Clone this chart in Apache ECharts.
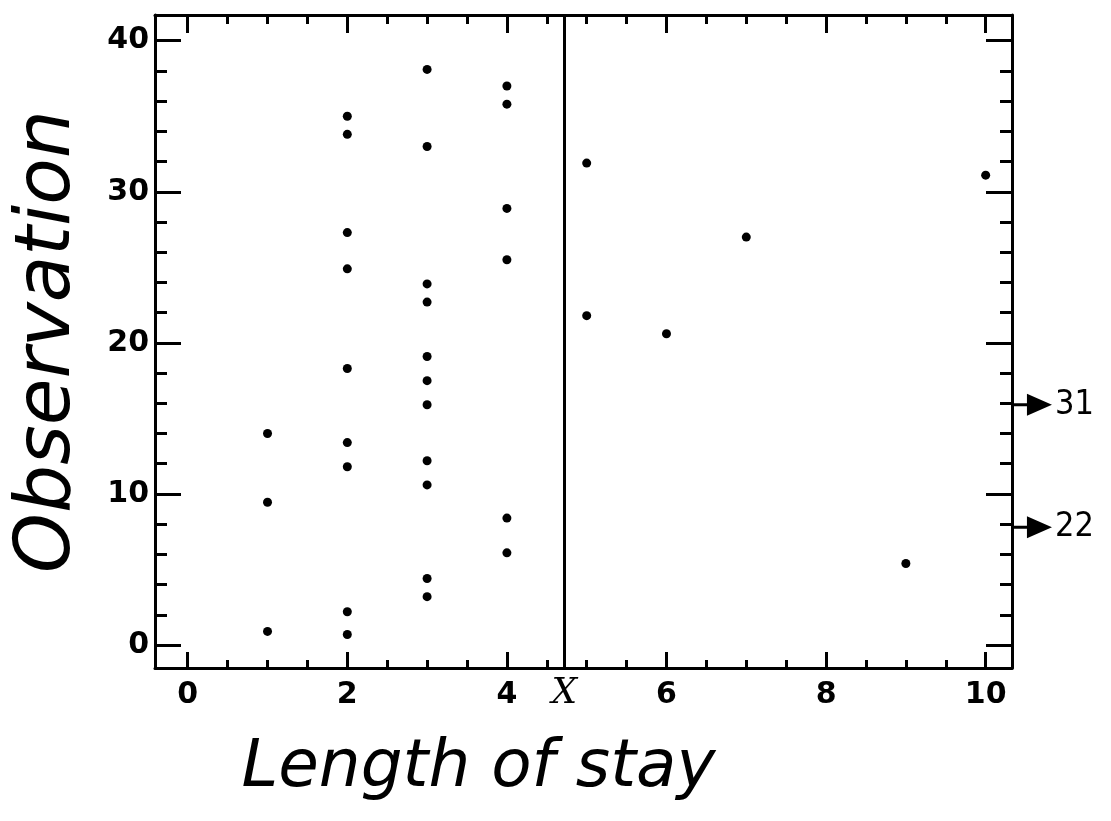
<!DOCTYPE html>
<html>
<head>
<meta charset="utf-8">
<script src="https://cdn.jsdelivr.net/npm/echarts@6/dist/echarts.min.js"></script>
<style>
  html, body { margin: 0; padding: 0; background: #fff; }
  #main { width: 1111px; height: 821px; }
</style>
</head>
<body>
<div id="main"></div>
<script>
// length of stay (x) against observation (y)
var stay1 = [14.0, 9.45, 0.9];
var stay2 = [35.0, 33.8, 27.3, 24.9, 18.3, 13.4, 11.8, 2.2, 0.7];
var stay3 = [38.1, 33.0, 23.9, 22.7, 19.1, 17.5, 15.9, 12.2, 10.6, 4.4, 3.2];
var stay4 = [37.0, 35.8, 28.9, 25.5, 8.4, 6.1];
var otherX = [5, 5, 6, 7, 9, 10];
var otherY = [31.9, 21.8, 20.6, 27.0, 5.4, 31.1];

// off-scale observations, shown as arrows on the right edge
var offY = [15.9, 7.8];
var offStay = ['31', '22'];

var meanStay = 4.72;

var xMajorTicks = [0, 2, 4, 6, 8, 10];
var xMinorTicks = [0.5, 1, 1.5, 2.5, 3, 3.5, 4.5, 5, 5.5, 6.5, 7, 7.5, 8.5, 9, 9.5];
var yMajorTicks = [0, 10, 20, 30, 40];
var yMinorTicks = [2, 4, 6, 8, 12, 14, 16, 18, 22, 24, 26, 28, 32, 34, 36, 38];

var xMin = -0.41, xMax = 10.33;
var yMin = -1.52, yMax = 41.7;

var points = [];
[[1, stay1], [2, stay2], [3, stay3], [4, stay4]].forEach(function (c) {
    c[1].forEach(function (v) { points.push([c[0], v]); });
});
otherX.forEach(function (x, i) { points.push([x, otherY[i]]); });

// arrow sits just outside the right frame
var arrowData = offY.map(function (y, i) {
    return { value: [xMax + 0.25, y], label: { formatter: offStay[i] } };
});
var arrowPath = 'path://M0,9.5 L15,9.5 L15,0 L40,11 L15,22 L15,12.5 L0,12.5 Z';

var numFont = { color: '#000', fontFamily: 'DejaVu Sans', fontWeight: 'bold', fontSize: 30 };
var nameFont = { color: '#000', fontFamily: 'DejaVu Sans', fontStyle: 'italic', fontWeight: 'lighter' };

function xAxisOf(pos, ticks, len, withLabels, withLine) {
    return {
        type: 'value', position: pos, min: xMin, max: xMax,
        splitLine: { show: false },
        axisLine: { show: withLine, onZero: false, lineStyle: { color: '#000', width: 3 } },
        axisTick: { show: true, inside: true, length: len, customValues: ticks, lineStyle: { color: '#000', width: 3 } },
        axisLabel: withLabels ? Object.assign({ show: true, margin: 12, customValues: xMajorTicks }, numFont) : { show: false }
    };
}
function yAxisOf(pos, ticks, len, withLabels, withLine) {
    return {
        type: 'value', position: pos, min: yMin, max: yMax,
        splitLine: { show: false },
        axisLine: { show: withLine, onZero: false, lineStyle: { color: '#000', width: 3 } },
        axisTick: { show: true, inside: true, length: len, customValues: ticks, lineStyle: { color: '#000', width: 3 } },
        axisLabel: withLabels ? Object.assign({ show: true, margin: 6, customValues: yMajorTicks }, numFont) : { show: false }
    };
}

var xAxes = [
    xAxisOf('bottom', xMajorTicks, 16, true, true),
    xAxisOf('bottom', xMinorTicks, 8, false, false),
    xAxisOf('top', xMajorTicks, 18, false, true),
    xAxisOf('top', xMinorTicks, 9, false, false)
];
xAxes[0].name = 'Length of stay';
xAxes[0].nameLocation = 'middle';
xAxes[0].nameGap = 68;
xAxes[0].nameTextStyle = Object.assign({ fontSize: 66, padding: [0, 210, 0, 0] }, nameFont);

var yAxes = [
    yAxisOf('left', yMajorTicks, 26, true, true),
    yAxisOf('left', yMinorTicks, 12, false, false),
    yAxisOf('right', yMajorTicks, 26, false, true),
    yAxisOf('right', yMinorTicks, 12, false, false)
];
yAxes[0].name = 'Observation';
yAxes[0].nameLocation = 'middle';
yAxes[0].nameGap = 68;
yAxes[0].nameTextStyle = Object.assign({ fontSize: 76 }, nameFont);

var myChart = echarts.init(document.getElementById('main'));

var option = {
    backgroundColor: '#fff',
    animation: false,
    grid: { left: 155, right: 99, top: 15, bottom: 153, containLabel: false, outerBoundsMode: 'none' },
    xAxis: xAxes,
    yAxis: yAxes,
    series: [{
        name: 'stays',
        type: 'scatter',
        data: points,
        symbol: 'circle',
        symbolSize: 9,
        itemStyle: { color: '#000', opacity: 1 },
        markLine: {
            silent: true,
            symbol: 'none',
            lineStyle: { color: '#000', width: 3, type: 'solid' },
            label: {
                show: true, position: 'start', distance: 8, formatter: 'X',
                color: '#000', fontFamily: 'DejaVu Serif', fontStyle: 'italic', fontSize: 36
            },
            data: [{ xAxis: meanStay }]
        }
    }, {
        name: 'off scale',
        type: 'scatter',
        data: arrowData,
        clip: false,
        silent: true,
        symbol: arrowPath,
        symbolSize: [40, 22],
        symbolKeepAspect: false,
        itemStyle: { color: '#000', opacity: 1 },
        label: {
            show: true, position: 'right', distance: 3,
            color: '#000', fontFamily: 'DejaVu Sans Condensed', fontSize: 34
        }
    }]
};

myChart.setOption(option);
</script>
</body>
</html>
